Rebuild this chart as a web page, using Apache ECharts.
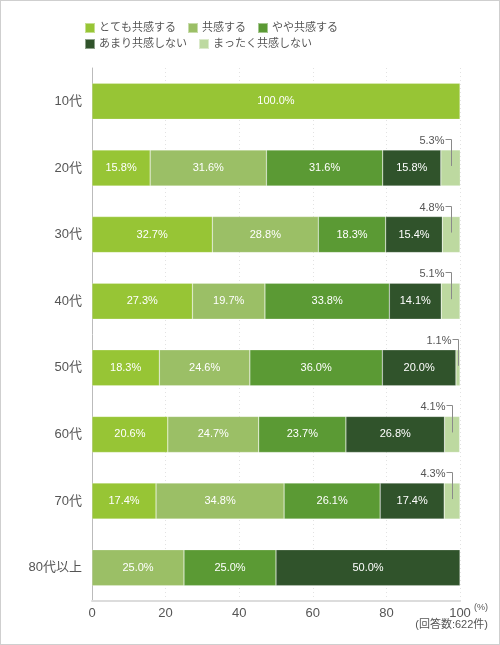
<!DOCTYPE html>
<html>
<head>
<meta charset="utf-8">
<script src="https://cdn.jsdelivr.net/npm/echarts@6/dist/echarts.min.js"></script>
<style>
html,body{margin:0;padding:0;background:#fff;}
#wrap{position:relative;width:500px;height:645px;}
#chart{position:absolute;left:0;top:0;width:500px;height:645px;}
#frame{position:absolute;left:0;top:0;width:500px;height:645px;box-sizing:border-box;border:1px solid #cfcfcf;pointer-events:none;}
</style>
</head>
<body>
<div id="wrap"><div id="chart"></div><div id="frame"></div></div>
<script>
const categories = ['10代','20代','30代','40代','50代','60代','70代','80代以上'];
const seriesNames = ['とても共感する','共感する','やや共感する','あまり共感しない','まったく共感しない'];
const verySympathize = [100.0, 15.8, 32.7, 27.3, 18.3, 20.6, 17.4, 0];
const sympathize     = [0, 31.6, 28.8, 19.7, 24.6, 24.7, 34.8, 25.0];
const somewhat       = [0, 31.6, 18.3, 33.8, 36.0, 23.7, 26.1, 25.0];
const notMuch        = [0, 15.8, 15.4, 14.1, 20.0, 26.8, 17.4, 50.0];
const notAtAll       = [0, 5.3, 4.8, 5.1, 1.1, 4.1, 4.3, 0];
const xTicks = [0, 20, 40, 60, 80, 100];
const unitLabel = '(%)';
const noteLabel = '(回答数:622件)';

const colors = ['#97c535', '#9bbf66', '#5b9a34', '#30532b', '#bdd9a0'];
const FONT = '"Liberation Sans", "Noto Sans CJK JP", sans-serif';

const valueSets = [verySympathize, sympathize, somewhat, notMuch, notAtAll];

const barSeries = valueSets.map((vals, k) => ({
  name: seriesNames[k],
  type: 'bar',
  stack: 'total',
  barWidth: 36,
  data: vals.map(v => (v > 0 ? v : null)),
  itemStyle: { color: colors[k], borderColor: 'rgba(255,255,255,0.45)', borderWidth: 0.5 },
  label: {
    show: k !== 4,
    position: 'inside',
    color: '#fff',
    fontSize: 11,
    fontFamily: FONT,
    formatter: p => (p.value ? p.value.toFixed(1) + '%' : '')
  },
  emphasis: { disabled: true }
}));

// leader-line labels for the small last segment
const smallData = [];
categories.forEach((c, i) => {
  const v = notAtAll[i];
  if (v > 0) {
    const start = verySympathize[i] + sympathize[i] + somewhat[i] + notMuch[i];
    smallData.push([start + v / 2, i, v]);
  }
});

const option = {
  animation: false,
  textStyle: { fontFamily: FONT },
  legend: [
    {
      data: seriesNames.slice(0, 3),
      left: 84, top: 22, padding: 0,
      itemWidth: 10, itemHeight: 10, itemGap: 11,
      icon: 'rect',
      textStyle: { fontSize: 11, color: '#555', fontFamily: FONT, padding: [0, 0, 0, -1] },
      selectedMode: false
    },
    {
      data: seriesNames.slice(3),
      left: 84, top: 38, padding: 0,
      itemWidth: 10, itemHeight: 10, itemGap: 11,
      icon: 'rect',
      textStyle: { fontSize: 11, color: '#555', fontFamily: FONT, padding: [0, 0, 0, -1] },
      selectedMode: false
    }
  ],
  grid: { left: 92, right: 40, top: 68, bottom: 44, containLabel: false },
  xAxis: {
    type: 'value',
    min: xTicks[0],
    max: xTicks[xTicks.length - 1],
    interval: xTicks[1] - xTicks[0],
    axisLine: { show: true, lineStyle: { color: '#dcdcdc', width: 2 } },
    axisTick: { show: false },
    axisLabel: { fontSize: 13, color: '#555', margin: 6, fontFamily: FONT },
    splitLine: { show: true, lineStyle: { color: '#e2e2e2', type: [1, 3], width: 1 } }
  },
  yAxis: {
    type: 'category',
    inverse: true,
    data: categories,
    axisLine: { show: true, lineStyle: { color: '#bbbbbb', width: 1 } },
    axisTick: { show: false },
    axisLabel: { fontSize: 13, color: '#555', margin: 10, fontFamily: FONT },
    splitLine: { show: false }
  },
  series: barSeries.concat([{
    type: 'custom',
    name: 'smallLabels',
    z: 10,
    silent: true,
    encode: { x: 0, y: 1 },
    data: smallData,
    renderItem: function (params, api) {
      const p = api.coord([api.value(0), api.value(1)]);
      const x = Math.round(p[0]) + 0.5;
      const yTop = Math.round(p[1] - 29) + 0.5;
      return {
        type: 'group',
        children: [
          {
            type: 'polyline',
            shape: { points: [[x, p[1] - 2], [x, yTop], [x - 6, yTop]] },
            style: { stroke: '#8a8a8a', lineWidth: 1, fill: null }
          },
          {
            type: 'text',
            style: {
              text: api.value(2).toFixed(1) + '%',
              x: x - 7, y: yTop + 1,
              align: 'right', verticalAlign: 'middle',
              fill: '#555', fontSize: 11, fontFamily: FONT
            }
          }
        ]
      };
    }
  }]),
  graphic: [
    { type: 'text', right: 12, top: 603, style: { text: unitLabel, fontSize: 9, fill: '#555', fontFamily: FONT } },
    { type: 'text', right: 12, top: 619, style: { text: noteLabel, fontSize: 11, fill: '#555', fontFamily: FONT } }
  ]
};

const chart = echarts.init(document.getElementById('chart'), null, { renderer: 'canvas' });
chart.setOption(option);
</script>
</body>
</html>
